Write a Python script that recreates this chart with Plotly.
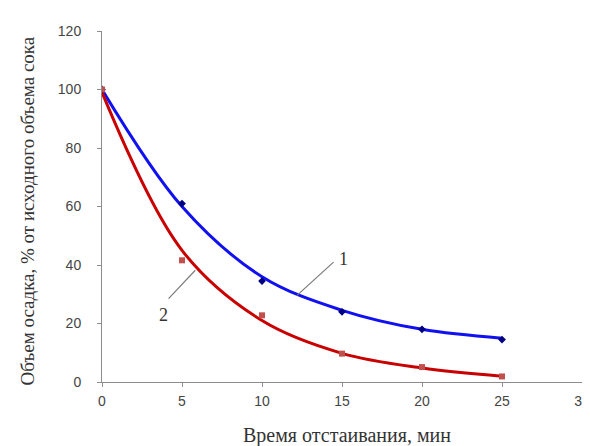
import plotly.graph_objects as go

# Data
time_min = [0, 5, 10, 15, 20, 25]
series1_points = [100, 61, 34.5, 24, 18, 14.5]
series2_points = [100, 41.6, 22.8, 9.7, 5.1, 1.9]
# Smooth trend curves (at the same times)
series1_trend = [100, 60, 36, 24.5, 18, 15]
series2_trend = [99, 45, 21, 9.8, 4.8, 2.0]

x_ticks = [0, 5, 10, 15, 20, 25, 30]
y_ticks = [0, 20, 40, 60, 80, 100, 120]

fig = go.Figure()
fig.add_trace(go.Scatter(x=time_min, y=series1_trend, mode="lines",
                         line=dict(color="#1010f0", width=3, shape="spline", smoothing=1.0),
                         hoverinfo="skip", showlegend=False))
fig.add_trace(go.Scatter(x=time_min, y=series2_trend, mode="lines",
                         line=dict(color="#c80000", width=3, shape="spline", smoothing=1.0),
                         hoverinfo="skip", showlegend=False))
fig.add_trace(go.Scatter(x=time_min, y=series1_points, mode="markers",
                         marker=dict(symbol="diamond", size=6, color="#000080"),
                         name="1", showlegend=False))
fig.add_trace(go.Scatter(x=time_min, y=series2_points, mode="markers",
                         marker=dict(symbol="square", size=6, color="#c0504d"),
                         name="2", showlegend=False))

# leader lines for curve labels
fig.add_shape(type="line", x0=12.19, y0=29.6, x1=14.47, y1=41.0,
              line=dict(color="#7a7a7a", width=1.2))
fig.add_shape(type="line", x0=4.16, y0=28.5, x1=5.83, y1=38.2,
              line=dict(color="#7a7a7a", width=1.2))
fig.add_annotation(x=15.1, y=42.2, text="1", showarrow=False,
                   font=dict(family="Liberation Serif", size=18, color="#333333"))
fig.add_annotation(x=3.85, y=22.8, text="2", showarrow=False,
                   font=dict(family="Liberation Serif", size=18, color="#333333"))

# axis titles as annotations for exact placement
fig.add_annotation(xref="paper", yref="paper", x=0.51, y=-0.152,
                   yanchor="middle", xanchor="center", showarrow=False,
                   text="Время отстаивания, мин",
                   font=dict(family="Liberation Serif", size=20, color="#333333"))
fig.add_annotation(xref="paper", yref="paper", x=-0.156, y=0.486,
                   yanchor="middle", xanchor="center", showarrow=False, textangle=-90,
                   text="Объем осадка, % от исходного объема сока",
                   font=dict(family="Liberation Serif", size=19, color="#333333"))

axis_common = dict(showgrid=False, zeroline=False, showline=True,
                   linecolor="#8c8c8c", linewidth=1, ticks="outside",
                   ticklen=4, tickcolor="#8c8c8c", automargin=False,
                   tickfont=dict(family="Liberation Sans", size=14, color="#444444"))

fig.update_xaxes(range=[0, 30], tickvals=x_ticks, ticklabelstandoff=2, **axis_common)
fig.update_yaxes(range=[0, 120], tickvals=y_ticks, ticklabelstandoff=13, **axis_common)

# page body adds an 8px offset, so the figure is sized to fit the 590x446 window
fig.update_layout(width=582, height=438,
                  margin=dict(l=94, r=8, t=23, b=64),
                  paper_bgcolor="white", plot_bgcolor="white",
                  showlegend=False)

fig.write_html("out.html")
